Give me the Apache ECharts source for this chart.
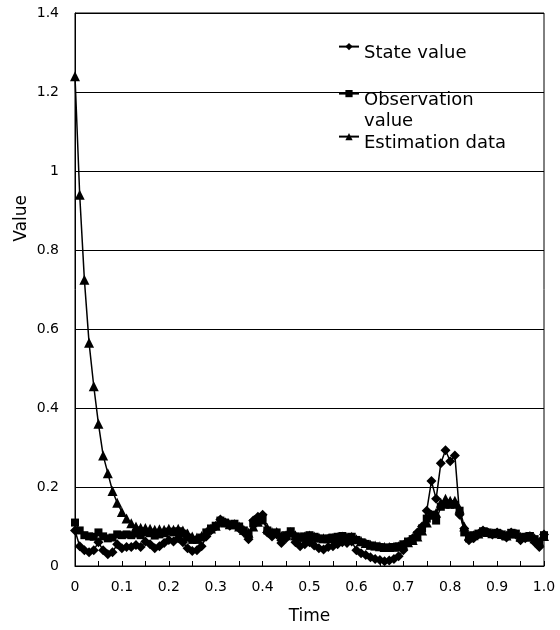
<!DOCTYPE html>
<html>
<head>
<meta charset="utf-8">
<script src="https://cdn.jsdelivr.net/npm/echarts@6/dist/echarts.min.js"></script>
<style>html,body{margin:0;padding:0;background:#fff;}#c{width:560px;height:630px;}</style>
</head>
<body>
<div id="c"></div>
<script>
// Time steps 0.00 .. 1.00 (step 0.01)
const timeSteps = [0,0.01,0.02,0.03,0.04,0.05,0.06,0.07,0.08,0.09,0.1,0.11,0.12,0.13,0.14,0.15,0.16,0.17,0.18,0.19,0.2,0.21,0.22,0.23,0.24,0.25,0.26,0.27,0.28,0.29,0.3,0.31,0.32,0.33,0.34,0.35,0.36,0.37,0.38,0.39,0.4,0.41,0.42,0.43,0.44,0.45,0.46,0.47,0.48,0.49,0.5,0.51,0.52,0.53,0.54,0.55,0.56,0.57,0.58,0.59,0.6,0.61,0.62,0.63,0.64,0.65,0.66,0.67,0.68,0.69,0.7,0.71,0.72,0.73,0.74,0.75,0.76,0.77,0.78,0.79,0.8,0.81,0.82,0.83,0.84,0.85,0.86,0.87,0.88,0.89,0.9,0.91,0.92,0.93,0.94,0.95,0.96,0.97,0.98,0.99,1.0];

const stateValue = [0.09,0.05,0.04,0.035,0.04,0.06,0.04,0.03,0.035,0.055,0.045,0.048,0.048,0.053,0.048,0.062,0.055,0.045,0.05,0.058,0.066,0.062,0.07,0.06,0.045,0.038,0.04,0.05,0.075,0.09,0.1,0.118,0.11,0.102,0.105,0.095,0.085,0.068,0.115,0.125,0.13,0.085,0.075,0.08,0.058,0.07,0.085,0.06,0.05,0.055,0.06,0.052,0.045,0.042,0.048,0.05,0.055,0.06,0.058,0.062,0.04,0.032,0.028,0.022,0.018,0.015,0.012,0.014,0.018,0.025,0.04,0.06,0.07,0.085,0.1,0.14,0.215,0.17,0.26,0.293,0.265,0.28,0.13,0.095,0.065,0.07,0.08,0.09,0.085,0.08,0.085,0.078,0.072,0.085,0.08,0.065,0.07,0.075,0.06,0.048,0.08];

const observationValue = [0.11,0.09,0.078,0.075,0.074,0.085,0.075,0.07,0.072,0.08,0.078,0.08,0.078,0.082,0.078,0.085,0.083,0.077,0.08,0.083,0.087,0.085,0.088,0.082,0.072,0.066,0.066,0.072,0.085,0.095,0.102,0.115,0.11,0.105,0.107,0.1,0.09,0.08,0.108,0.118,0.122,0.09,0.082,0.085,0.072,0.078,0.088,0.075,0.072,0.075,0.078,0.074,0.07,0.068,0.07,0.072,0.074,0.076,0.072,0.074,0.066,0.06,0.056,0.052,0.05,0.048,0.046,0.047,0.048,0.05,0.055,0.062,0.068,0.078,0.095,0.12,0.13,0.115,0.15,0.155,0.155,0.155,0.14,0.085,0.07,0.078,0.082,0.088,0.085,0.082,0.084,0.08,0.076,0.084,0.082,0.072,0.074,0.076,0.068,0.06,0.078];

const estimationData = [1.24,0.94,0.725,0.565,0.455,0.36,0.28,0.235,0.19,0.16,0.137,0.12,0.108,0.1,0.097,0.096,0.094,0.092,0.093,0.092,0.094,0.092,0.094,0.09,0.082,0.075,0.072,0.076,0.086,0.095,0.102,0.112,0.11,0.106,0.106,0.1,0.092,0.084,0.1,0.112,0.118,0.096,0.086,0.086,0.076,0.078,0.085,0.078,0.074,0.075,0.077,0.075,0.072,0.07,0.07,0.071,0.073,0.075,0.073,0.074,0.068,0.063,0.058,0.054,0.052,0.05,0.048,0.048,0.049,0.05,0.054,0.06,0.066,0.075,0.09,0.11,0.13,0.135,0.16,0.17,0.165,0.165,0.145,0.1,0.078,0.078,0.082,0.087,0.086,0.083,0.084,0.081,0.077,0.083,0.082,0.074,0.074,0.076,0.07,0.062,0.076];

const seriesNames = ['State value', 'Observation value', 'Estimation data'];
const xAxisTitle = 'Time';
const yAxisTitle = 'Value';

const pair = arr => timeSteps.map((t, i) => [t, arr[i]]);
const FONT = 'DejaVu Sans';

const chart = echarts.init(document.getElementById('c'), null, {renderer: 'canvas'});
const tok = {fontFamily: FONT, fontSize: 18, color: '#000'};
const legendBase = {
  orient: 'vertical', left: 338, padding: 0, itemWidth: 20, itemHeight: 9,
  selectedMode: false
};
chart.setOption({
  animation: false,
  backgroundColor: '#fff',
  grid: {left: 75, right: 16, top: 13, bottom: 64, show: true, borderColor: '#000', borderWidth: 1, containLabel: false},
  legend: [
    Object.assign({}, legendBase, {top: 43, data: [seriesNames[0]],
      formatter: n => '{b|' + n + '}',
      textStyle: {rich: {b: Object.assign({}, tok, {lineHeight: 32, verticalAlign: 'bottom'})}}}),
    Object.assign({}, legendBase, {top: 90, data: [seriesNames[1]],
      formatter: () => '{b|Observation}\n{t|value}',
      textStyle: {rich: {
        b: Object.assign({}, tok, {lineHeight: 56, verticalAlign: 'bottom'}),
        t: Object.assign({}, tok, {lineHeight: 24})
      }}}),
    Object.assign({}, legendBase, {top: 133, data: [seriesNames[2]],
      formatter: n => '{b|' + n + '}',
      textStyle: {rich: {b: Object.assign({}, tok, {lineHeight: 32, verticalAlign: 'bottom'})}}})
  ],
  xAxis: {
    type: 'value', min: 0, max: 1, interval: 0.05,
    name: xAxisTitle, nameLocation: 'middle', nameGap: 42,
    nameTextStyle: {fontFamily: FONT, fontSize: 17, color: '#000'},
    axisLine: {show: true, lineStyle: {color: '#000', width: 1}},
    axisTick: {show: true, inside: true, length: 5, lineStyle: {color: '#000'}},
    splitLine: {show: false},
    axisLabel: {
      fontFamily: FONT, fontSize: 14, color: '#000', margin: 14,
      formatter: v => {
        const k = Math.round(v * 20);
        if (k % 2 !== 0) return '';
        if (k === 0) return '0';
        return (k / 20).toFixed(1);
      }
    }
  },
  yAxis: {
    type: 'value', min: 0, max: 1.4, interval: 0.2,
    axisLine: {show: true, lineStyle: {color: '#000', width: 1}},
    axisTick: {show: false},
    splitLine: {show: true, lineStyle: {color: '#000', width: 1}},
    axisLabel: {
      fontFamily: FONT, fontSize: 14, color: '#000', margin: 16,
      formatter: v => {
        const k = Math.round(v * 10);
        if (k % 10 === 0) return String(k / 10);
        return (k / 10).toFixed(1);
      }
    }
  },
  graphic: [{
    type: 'text', left: 13, top: 195, rotation: Math.PI / 2,
    style: {text: yAxisTitle, font: '17px "DejaVu Sans"', fill: '#000'}
  }],
  series: [
    {name: seriesNames[0], type: 'line', data: pair(stateValue), symbol: 'diamond', symbolSize: 10,
     showAllSymbol: true, color: '#000', lineStyle: {color: '#000', width: 1.5}, itemStyle: {color: '#000'}, z: 2},
    {name: seriesNames[1], type: 'line', data: pair(observationValue), symbol: 'rect', symbolSize: 8,
     showAllSymbol: true, color: '#000', lineStyle: {color: '#000', width: 1.5}, itemStyle: {color: '#000'}, z: 3},
    {name: seriesNames[2], type: 'line', data: pair(estimationData), symbol: 'triangle', symbolSize: 10,
     showAllSymbol: true, color: '#000', lineStyle: {color: '#000', width: 1.5}, itemStyle: {color: '#000'}, z: 4}
  ]
});
</script>
</body>
</html>
